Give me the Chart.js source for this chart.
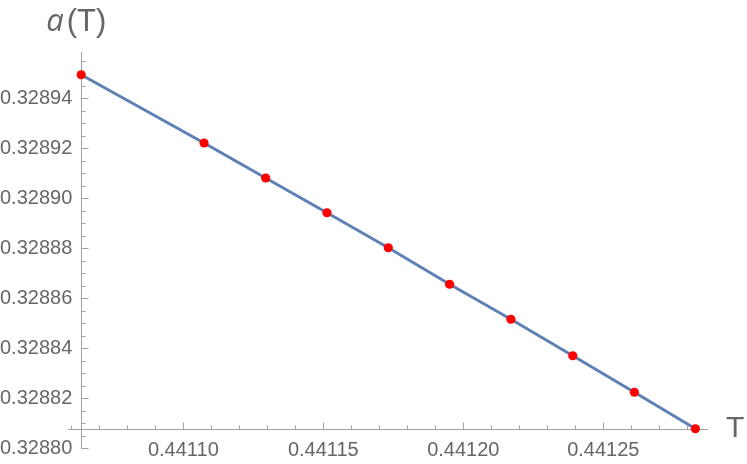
<!DOCTYPE html>
<html><head><meta charset="utf-8">
<script src="https://cdn.jsdelivr.net/npm/chart.js@4/dist/chart.umd.min.js"></script>
<style>html,body{margin:0;padding:0;background:#fff;overflow:hidden}</style>
</head><body>
<canvas id="c" width="747" height="464"></canvas>
<script>
// ---- data ----
const T = [0.4410635, 0.4411074, 0.4411294, 0.4411513, 0.4411732, 0.4411951, 0.4412170, 0.4412391, 0.4412611, 0.4412829];
const A = [0.3289494, 0.3289221, 0.3289081, 0.3288942, 0.3288802, 0.3288656, 0.3288516, 0.3288370, 0.3288224, 0.3288078];
const xRange = [0.4410588, 0.4412874];
const yRange = [0.3287997, 0.3289585];
const xTickStep = 0.00001, xLabelEvery = 5;
const yTickStep = 0.000005, yLabelEvery = 4;
const xTitle = 'T';
const yTitleItalic = 'a', yTitleRest = '(T)';

// ---- styling ----
const AXIS = '#a3a3a3';
const LABEL = '#666666';
const TICKFONT = {family: '"Liberation Sans", Arial, sans-serif', size: 20};

const isMajor = (v, step, every) => Math.round(v / step) % every === 0;

const mmaAxes = {
  id: 'mmaAxes',
  beforeDatasetsDraw(chart) {
    const ctx = chart.ctx, xs = chart.scales.x, ys = chart.scales.y;
    const y0 = Math.round(ys.getPixelForValue(A[A.length - 1])) + 0.5;
    const x0 = Math.round(xs.getPixelForValue(T[0])) + 0.5;
    ctx.save();
    ctx.strokeStyle = AXIS;
    ctx.lineWidth = 1;
    ctx.beginPath();
    ctx.moveTo(xs.left, y0); ctx.lineTo(xs.right, y0);
    ctx.moveTo(x0, ys.top); ctx.lineTo(x0, ys.bottom);
    xs.ticks.forEach(t => {
      const px = Math.round(xs.getPixelForValue(t.value)) + 0.5;
      const len = isMajor(t.value, xTickStep, xLabelEvery) ? 7 : 4;
      ctx.moveTo(px, y0); ctx.lineTo(px, y0 - len);
    });
    ys.ticks.forEach(t => {
      const py = Math.round(ys.getPixelForValue(t.value)) + 0.5;
      const len = isMajor(t.value, yTickStep, yLabelEvery) ? 7 : 4;
      ctx.moveTo(x0, py); ctx.lineTo(x0 + len, py);
    });
    ctx.stroke();
    ctx.restore();
  },
  afterDraw(chart) {
    const ctx = chart.ctx, xs = chart.scales.x, ys = chart.scales.y;
    const y0 = ys.getPixelForValue(A[A.length - 1]);
    const x0 = xs.getPixelForValue(T[0]);
    ctx.save();
    ctx.fillStyle = LABEL;
    ctx.textBaseline = 'middle';
    ctx.textAlign = 'left';
    ctx.font = '30px "Liberation Sans", Arial, sans-serif';
    ctx.fillText(xTitle, xs.right + 18, y0);
    const ty = ys.top - 30;
    ctx.font = 'italic 31px "Open Sans", "Noto Sans", sans-serif';
    let x = x0 - 35;
    ctx.fillText(yTitleItalic, x, ty);
    x += ctx.measureText(yTitleItalic).width + 3;
    ctx.font = '31px "Liberation Sans", Arial, sans-serif';
    ctx.fillText(yTitleRest, x, ty);
    ctx.restore();
  }
};

const pts = T.map((t, i) => ({x: t, y: A[i]}));

new Chart(document.getElementById('c'), {
  type: 'scatter',
  data: {
    datasets: [
      {data: pts, backgroundColor: '#ff0000', borderColor: '#ff0000', pointRadius: 4.6, borderWidth: 0, showLine: false},
      {type: 'line', data: pts, borderColor: '#5e81b5', borderWidth: 3, pointRadius: 0, fill: false, tension: 0}
    ]
  },
  options: {
    responsive: false,
    animation: false,
    devicePixelRatio: 1,
    layout: {padding: {left: 68, right: 39, top: 52, bottom: 15}},
    plugins: {legend: {display: false}, tooltip: {enabled: false}},
    scales: {
      x: {
        type: 'linear', min: xRange[0], max: xRange[1],
        position: {y: A[A.length - 1]},
        grid: {display: false, drawTicks: false}, border: {display: false},
        ticks: {
          stepSize: xTickStep, autoSkip: false, includeBounds: false, maxRotation: 0, minRotation: 0,
          padding: 10, color: LABEL, font: TICKFONT,
          callback: v => isMajor(v, xTickStep, xLabelEvery) ? v.toFixed(5) : ''
        }
      },
      y: {
        type: 'linear', position: 'left', min: yRange[0], max: yRange[1],
        afterFit(s) { s.width = 0; },
        grid: {display: false, drawTicks: false}, border: {display: false},
        ticks: {
          stepSize: yTickStep, autoSkip: false, includeBounds: false,
          mirror: true, padding: -68, color: LABEL, font: TICKFONT,
          callback: v => isMajor(v, yTickStep, yLabelEvery) ? v.toFixed(5) : ''
        }
      }
    }
  },
  plugins: [mmaAxes]
});
</script>
</body></html>
